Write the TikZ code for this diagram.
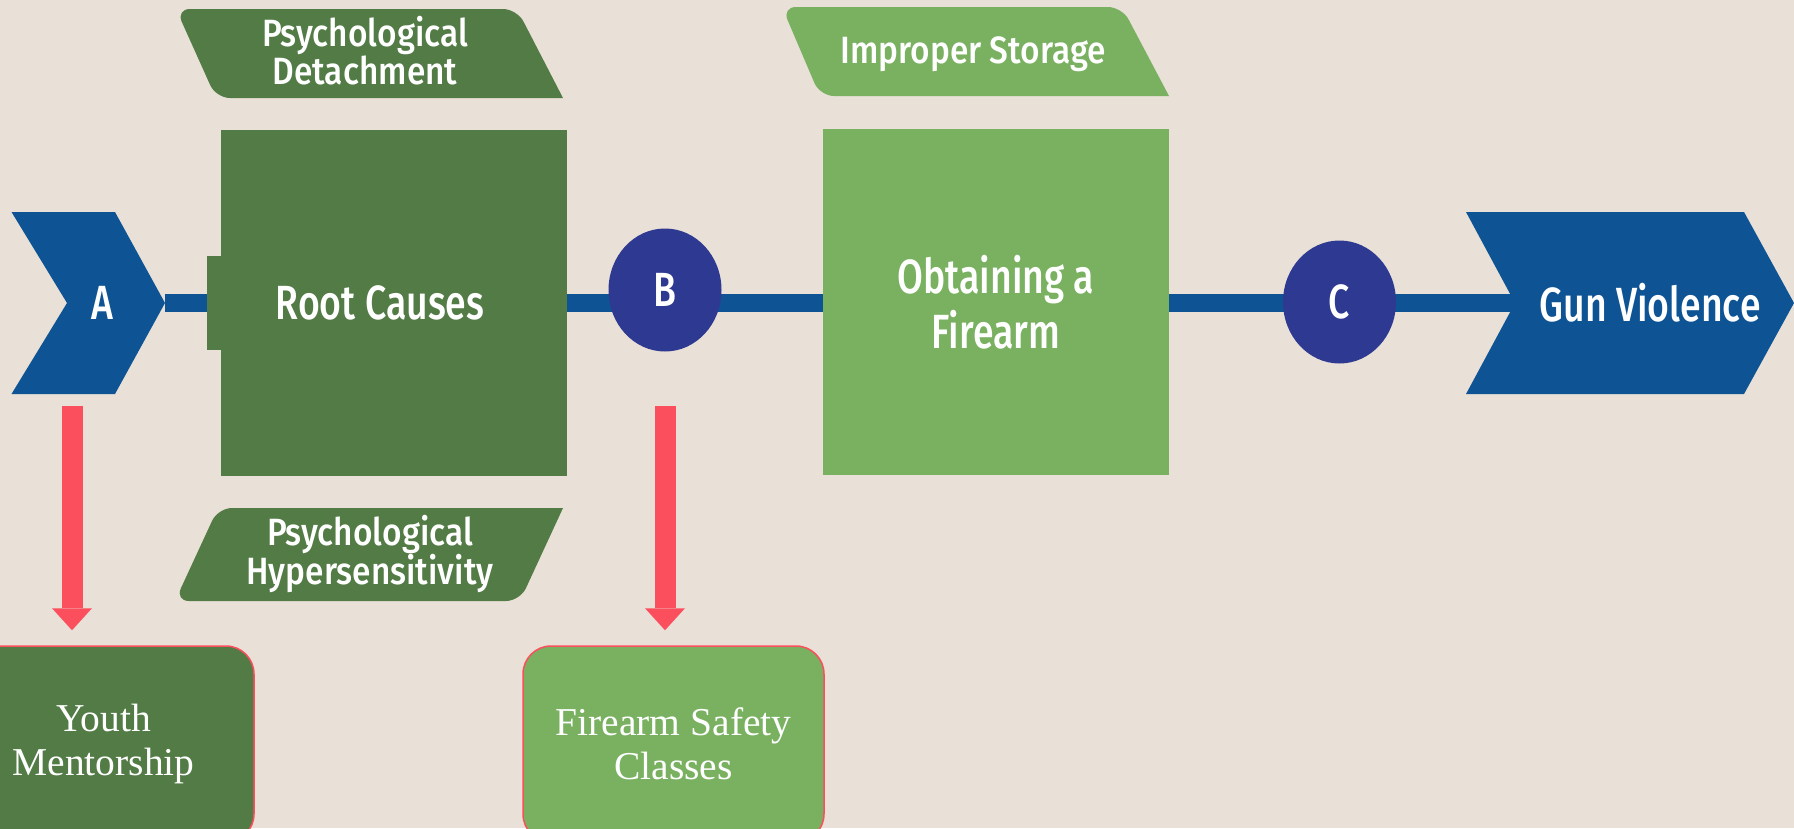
\documentclass[tikz,border=0pt]{standalone}
\usepackage{fontspec}
\setmainfont{Liberation Serif}
\newfontfamily\headfont{Fira Sans Medium}[FakeStretch=0.78]
\newfontfamily\tabfont{Fira Sans Medium}[FakeStretch=0.88]
\usepackage{tikz}
\usetikzlibrary{arrows.meta,positioning,shapes.geometric,backgrounds}
\definecolor{pagebg}{HTML}{E9E0D7}
\definecolor{darkgreen}{HTML}{527B45}
\definecolor{lightgreen}{HTML}{79B161}
\definecolor{chevblue}{HTML}{0E5494}
\definecolor{navy}{HTML}{2E3991}
\definecolor{alertred}{HTML}{FB4F5E}

\begin{document}
\begin{tikzpicture}[x=1pt,y=-1pt,
			bigtxt/.style={text=white,inner sep=0pt,align=center,font=\headfont\fontsize{48}{55}\selectfont},
			block/.style={minimum width=346pt,minimum height=346pt,inner sep=0pt,bigtxt},
			tabtxt/.style={text=white,inner sep=0pt,align=center,font=\tabfont\fontsize{38}{36.5}\selectfont},
			dot/.style={ellipse,fill=navy,minimum width=113pt,minimum height=123pt,inner sep=0pt,bigtxt},
			fixbox/.style={draw=alertred,line width=1.5pt,rounded corners=28pt,minimum width=301pt,minimum height=196pt,text=white,align=center,font=\fontsize{39.5}{44}\selectfont},
			flow/.style={chevblue,line width=18pt},
			fix/.style={alertred,line width=21pt,-{Triangle[width=40pt,length=22pt,line width=0pt]},shorten >=15pt}
			]
			\fill[pagebg] (0,0) rectangle (1794,828);
			\useasboundingbox (0,0) rectangle (1794,828);
			\fill[darkgreen] (563,98) [rounded corners=14pt] -- (216,98) -- (176,9) -- (517,9) -- (563,98);
			\node[tabtxt] (det) at (365,51) {Psychological\\Detachment};
			\fill[darkgreen] (563,508) [rounded corners=14pt] -- (520,601) -- (175,601) -- (218,508) -- (563,508);
			\node[tabtxt] (hyp) at (370,554) {Psychological\\Hypersensitivity};
			\fill[lightgreen] (1169,96) [rounded corners=14pt] -- (820,96) -- (782,7) -- (1122,7) -- (1169,96);
			\node[tabtxt] (sto) at (973,54) {Improper Storage};
			\fill[chevblue] (11.5,212) -- (115,212) -- (165,303) -- (115,394) -- (11.5,394) -- (67,303) -- cycle;
			\coordinate (atip) at (165,303);
			\node[bigtxt] (a) at (102,303) {A};
			\fill[chevblue] (1466,212) -- (1744,212) -- (1794,303) -- (1744,394) -- (1466,394) -- (1515,303) -- cycle;
			\coordinate (gnotch) at (1515,303);
			\node[bigtxt] (gun) at (1650,303) {Gun Violence};
			\node[fill=darkgreen,minimum width=14pt,minimum height=94pt,inner sep=0pt] (lip) at (214,303) {};
			\node[block,fill=darkgreen,label={[bigtxt,xshift=-14pt]center:Root Causes}] (root) at (394,303) {};
			\node[block,fill=lightgreen] (obt) at (996,302) {Obtaining a\\Firearm};
			\draw[flow] (atip) -- (lip.west);
			\draw[flow] (root.east) -- (obt.west |- root.east);
			\draw[flow] (obt.east |- gnotch) -- (gnotch);
			\node[dot] (b) at (665,290) {B};
			\node[dot] (c) at (1339.5,302) {C};
			\node[fixbox,fill=darkgreen] (youth) at (103.5,744) {Youth\\Mentorship};
			\node[fixbox,fill=lightgreen] (safe) at (673.5,744) {Firearm Safety\\Classes};
			\coordinate (aout) at (72,406);
			\coordinate (bout) at (665,406);
			\draw[fix] (aout) -- (aout |- youth.north);
			\draw[fix] (bout) -- (bout |- safe.north);
		\end{tikzpicture}
\end{document}
